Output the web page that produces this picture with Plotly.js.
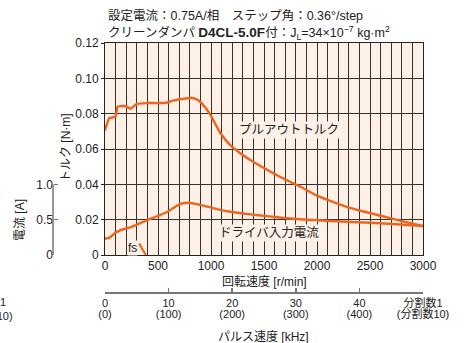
<!DOCTYPE html>
<html><head><meta charset="utf-8">
<script src="https://cdn.plot.ly/plotly-3.0.1.min.js"></script>
<style>html,body{margin:0;padding:0;background:#fff}#chart{width:470px;height:343px}</style>
</head><body><div id="chart"></div>
<script>
// ---- data ----
const pulloutRpm = [0, 20, 40, 70, 100, 120, 150, 200, 240, 300, 400, 500, 580, 650, 750, 810, 860, 900, 950, 1000, 1090, 1180, 1275, 1370, 1465, 1560, 1650, 1750, 1850, 1970, 2100, 2280, 2450, 2600, 2800, 3000];
const pulloutTorque = [0.0705, 0.0745, 0.0775, 0.0778, 0.0785, 0.0840, 0.0843, 0.0842, 0.0828, 0.0855, 0.0860, 0.0860, 0.0862, 0.0875, 0.0885, 0.0890, 0.0882, 0.0866, 0.0832, 0.0788, 0.0689, 0.0623, 0.0576, 0.0538, 0.0504, 0.0472, 0.0443, 0.0413, 0.0385, 0.0345, 0.0312, 0.0273, 0.0245, 0.0222, 0.0192, 0.0164];
const currentRpm = [0, 47, 94, 142, 236, 330, 425, 519, 582, 630, 708, 787, 897, 1055, 1212, 1370, 1527, 1716, 1842, 1966, 2282, 2597, 3000];
const currentAmp = [0.23, 0.25, 0.31, 0.35, 0.39, 0.45, 0.51, 0.565, 0.605, 0.65, 0.72, 0.74, 0.71, 0.65, 0.605, 0.575, 0.55, 0.52, 0.505, 0.495, 0.47, 0.45, 0.41];
const fsRpm = [322, 385];
const fsTorque = [0.0065, 0];
const torqueTicks = [0, 0.02, 0.04, 0.06, 0.08, 0.10, 0.12];
const torqueTickText = ['0', '0.02', '0.04', '0.06', '0.08', '0.10', '0.12'];
const rpmTicks = [0, 500, 1000, 1500, 2000, 2500, 3000];
const currentTicks = [0, 0.5, 1.0];
const currentTickText = ['0', '0.5', '1.0'];
const pulseTicks = [0, 10, 20, 30, 40, 50];
const pulseTickText = ['0', '10', '20', '30', '40', '分割数1'];
const pulseTickText10 = ['(0)', '(100)', '(200)', '(300)', '(400)', '(分割数10)'];

// ---- layout helpers (pixel -> paper) ----
const W = 470, H = 343, ML = 0, MR = 47, MT = 43, MB = 0;
const px = x => (x - ML) / (W - ML - MR);
const py = y => (H - MB - y) / (H - MT - MB);

const FONT = 'Liberation Sans, Arial, Noto Sans CJK JP, sans-serif';
const ORANGE = '#EE661E';
const BG = '#FDF0E6';
const GRID = '#3a302b';
const INK = '#222';

const traces = [
  {x: pulloutRpm, y: pulloutTorque, xaxis: 'x', yaxis: 'y', mode: 'lines',
   line: {color: ORANGE, width: 2.4, shape: 'spline', smoothing: 0.5}, hoverinfo: 'skip'},
  {x: currentRpm, y: currentAmp, xaxis: 'x', yaxis: 'y2', mode: 'lines',
   line: {color: ORANGE, width: 2.4, shape: 'spline', smoothing: 0.6}, hoverinfo: 'skip'},
  {x: fsRpm, y: fsTorque, xaxis: 'x', yaxis: 'y', mode: 'lines',
   line: {color: ORANGE, width: 2.2}, hoverinfo: 'skip'},
  {x: [0, 50], y: [null, null], xaxis: 'x2', yaxis: 'y', mode: 'lines', hoverinfo: 'skip'},
  {x: [0, 50], y: [null, null], xaxis: 'x3', yaxis: 'y', mode: 'lines', hoverinfo: 'skip'}
];

const tickFont = {family: FONT, size: 12, color: INK};
const pulseFont = {family: FONT, size: 11, color: INK};
const layout = {
  width: W, height: H,
  margin: {l: ML, r: MR, t: MT, b: MB, pad: 0},
  paper_bgcolor: '#fff', plot_bgcolor: BG,
  showlegend: false,
  font: {family: FONT, size: 12, color: INK},
  xaxis: {
    domain: [px(105), 1], range: [0, 3000], anchor: 'y',
    tickvals: rpmTicks, ticks: '', tickfont: tickFont,
    showgrid: true, gridcolor: GRID, gridwidth: 1,
    minor: {dtick: 100, tick0: 0, showgrid: true, gridcolor: GRID, gridwidth: 1, ticks: ''},
    showline: true, linecolor: INK, linewidth: 1, mirror: true, zeroline: false
  },
  yaxis: {
    domain: [py(255), 1], range: [0, 0.12], anchor: 'x',
    tickvals: torqueTicks, ticktext: torqueTickText, ticks: 'outside', ticklen: 3, tickcolor: INK,
    tickfont: tickFont,
    showgrid: true, gridcolor: GRID, gridwidth: 1,
    showline: true, linecolor: INK, linewidth: 1, mirror: true, zeroline: false
  },
  yaxis2: {
    overlaying: 'y', anchor: 'free', position: px(53), side: 'left',
    range: [0, 3], tickvals: currentTicks, ticktext: currentTickText,
    ticks: 'inside', ticklen: 4, tickcolor: '#777', tickwidth: 1.5,
    tickfont: tickFont, showgrid: false, showline: false, zeroline: false
  },
  xaxis2: {
    overlaying: 'x', anchor: 'free', position: py(292), side: 'bottom',
    range: [0, 50], tickvals: pulseTicks, ticktext: pulseTickText,
    ticks: 'inside', ticklen: 4, tickcolor: '#777', tickwidth: 1.5,
    tickfont: pulseFont, showgrid: false, showline: true, linecolor: '#777', linewidth: 1.5, zeroline: false
  },
  xaxis3: {
    overlaying: 'x', anchor: 'free', position: py(306), side: 'bottom',
    range: [0, 50], tickvals: pulseTicks, ticktext: pulseTickText10,
    ticks: '', tickfont: pulseFont, showgrid: false, showline: false, zeroline: false
  },
  shapes: [
    {type: 'line', xref: 'paper', yref: 'y2', x0: px(53), x1: px(53), y0: 0, y1: 1,
     line: {color: '#777', width: 1.5}}
  ],
  annotations: [
    {xref: 'paper', yref: 'paper', x: px(106), y: py(16), xanchor: 'left', yanchor: 'middle', showarrow: false,
     text: '設定電流：0.75A/相　ステップ角：0.36°/step', font: {family: FONT, size: 12.5, color: INK}},
    {xref: 'paper', yref: 'paper', x: px(106), y: py(33), xanchor: 'left', yanchor: 'middle', showarrow: false,
     text: 'クリーンダンパ <span style="font-size:13.5px"><b>D4CL-5.0F</b></span>付：J<sub>L</sub>=34×10<sup>−7</sup> kg·m<sup>2</sup>',
     font: {family: FONT, size: 12.5, color: INK}},
    {xref: 'paper', yref: 'paper', x: px(66), y: py(148), textangle: -90, showarrow: false,
     xanchor: 'center', yanchor: 'middle', text: 'トルク [N·m]', font: {family: FONT, size: 12, color: INK}},
    {xref: 'paper', yref: 'paper', x: px(20), y: py(220), textangle: -90, showarrow: false,
     xanchor: 'center', yanchor: 'middle', text: '電流 [A]', font: {family: FONT, size: 12, color: INK}},
    {xref: 'paper', yref: 'paper', x: px(264), y: py(282), showarrow: false,
     xanchor: 'center', yanchor: 'middle', text: '回転速度 [r/min]', font: {family: FONT, size: 12, color: INK}},
    {xref: 'paper', yref: 'paper', x: px(263), y: py(337), showarrow: false,
     xanchor: 'center', yanchor: 'middle', text: 'パルス速度 [kHz]', font: {family: FONT, size: 12, color: INK}},
    {xref: 'paper', yref: 'paper', x: px(289), y: py(130), showarrow: false, bgcolor: BG, borderpad: 1,
     xanchor: 'center', yanchor: 'middle', text: 'プルアウトトルク', font: {family: FONT, size: 12.5, color: INK}},
    {xref: 'paper', yref: 'paper', x: px(269), y: py(233), showarrow: false, bgcolor: BG, borderpad: 1,
     xanchor: 'center', yanchor: 'middle', text: 'ドライバ入力電流', font: {family: FONT, size: 12.5, color: INK}},
    {xref: 'paper', yref: 'paper', x: px(132), y: py(248), showarrow: false, bgcolor: BG, borderpad: 0,
     xanchor: 'center', yanchor: 'middle', text: 'fs', font: {family: FONT, size: 12, color: INK}},
    {xref: 'paper', yref: 'paper', x: px(8), y: py(302), showarrow: false,
     xanchor: 'right', yanchor: 'middle', text: '分割数1', font: pulseFont},
    {xref: 'paper', yref: 'paper', x: px(15), y: py(316), showarrow: false,
     xanchor: 'right', yanchor: 'middle', text: '(分割数10)', font: pulseFont}
  ]
};
Plotly.newPlot('chart', traces, layout, {staticPlot: true, displayModeBar: false});
</script></body></html>
